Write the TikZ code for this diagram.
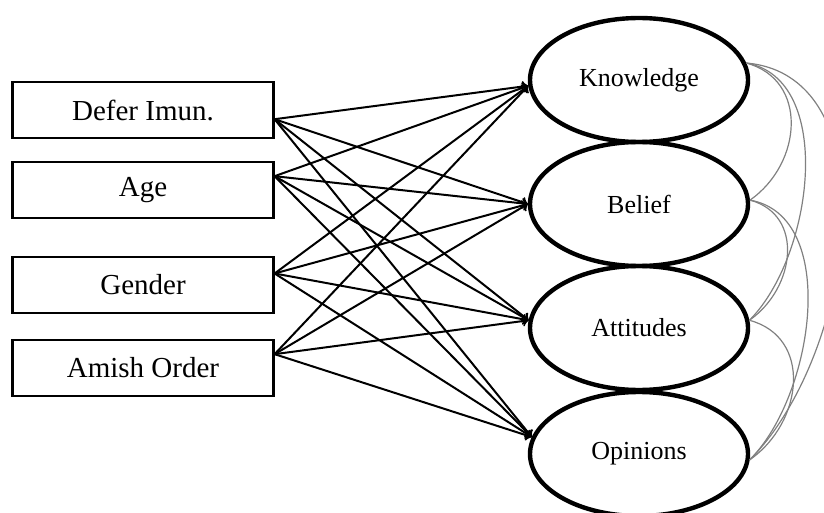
\documentclass[tikz,border=0pt]{standalone}
\usepackage{fontspec}
\setmainfont{Liberation Serif}
\usetikzlibrary{arrows,positioning,shapes}

\begin{document}
\begin{tikzpicture}[x = .5pt, y = -.5pt,
  var/.style = {draw, line width = 1.1pt, minimum width = 130.5pt, minimum height = 28pt, font = \fontsize{14.5}{17}\selectfont},
  lat/.style = {draw, ellipse, line width = 2.2pt, minimum width = 109pt, minimum height = 62pt, font = \fontsize{13}{15}\selectfont},
  reg/.style = {->, line width = 1pt},
  cov/.style = {gray, line width = .6pt}]
  \useasboundingbox (0,0) rectangle (824,513);
  % observed
  \node[var] (defer) at (143,110) {Defer Imun.};
  \node[var] (age) at (143,190) {Age};
  \node[var] (gender) at (143,285) {Gender};
  \node[var] (amish) at (143,368) {Amish Order};
  % latent
  \node[lat] (know) at (639,80) {Knowledge};
  \node[lat] (belief) at (639,204) {Belief};
  \node[lat] (att) at (639,328) {Attitudes};
  \node[lat] (opin) at (639,454) {Opinions};
  \foreach \s/\a in {defer/-4, age/6, gender/5, amish/6}
    \foreach \t/\b in {know/183, belief/180, att/176, opin/171}
      \draw[reg] (\s.\a) -- (\t.\b);
  % covariances
  \draw[cov] (know.9) to[out=-15, in=35, looseness=1.2] (belief.2);
  \draw[cov] (know.9) to[out=-10, in=45, looseness=0.9] (att.4);
  \draw[cov] (know.9) to[out=-5, in=45, looseness=0.95] (opin.-3);
  \draw[cov] (belief.2) to[out=-15, in=35, looseness=1.2] (att.4);
  \draw[cov] (belief.2) to[out=-10, in=45, looseness=0.9] (opin.-3);
  \draw[cov] (att.4) to[out=-15, in=35, looseness=1.2] (opin.-3);
\end{tikzpicture}
\end{document}
